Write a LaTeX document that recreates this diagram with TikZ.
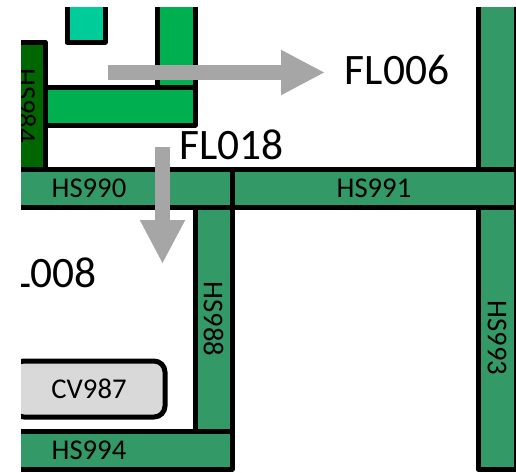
\documentclass[tikz,border=0pt]{standalone}
\usepackage{fontspec}
\setmainfont{Carlito}
\usetikzlibrary{arrows.meta}

\definecolor{barGreen}{HTML}{339966}
\definecolor{brightGreen}{HTML}{00B050}
\definecolor{darkGreen}{HTML}{006600}
\definecolor{tealBox}{HTML}{00CC99}
\definecolor{flowGray}{HTML}{A6A6A6}
\definecolor{valveGray}{HTML}{D9D9D9}

\def\px{.75pt}

\tikzset{
wall/.style={
draw=black,
line width=5*\px,
line join=round,
inner sep=0pt,
font=\fontsize{21.5}{24}\selectfont
},
flowlabel/.style={
inner sep=0pt,
font=\fontsize{32.6}{36}\selectfont
},
flowarrow/.style={
draw=flowGray,
line width=15*\px,
-{Triangle[length=44*\px,width=42*\px]}
}
}

\begin{document}
\begin{tikzpicture}[x=\px,y=-\px]

\useasboundingbox (0,0) rectangle (516,472);

\begin{scope}
\clip (21,7) rectangle (516,472);

%%%%%%%%%%%%%%%%%%%%%%%%%%%%%%%%%%%%%%%%%%%%%%%%%%%%%%
% UPPER ROOM
%%%%%%%%%%%%%%%%%%%%%%%%%%%%%%%%%%%%%%%%%%%%%%%%%%%%%%

\node[
wall,
fill=tealBox,
minimum width=38*\px,
minimum height=62.5*\px
](teal)
at (86,11)
{};

\node[
wall,
fill=brightGreen,
minimum width=38*\px,
minimum height=120*\px
](riser)
at (176,47)
{};

\node[
wall,
fill=brightGreen,
minimum width=150*\px,
minimum height=38*\px
](ledge)
at (120,106)
{};

\node[
wall,
fill=darkGreen,
rotate=-90,
minimum width=127*\px,
minimum height=38*\px
](hs984)
at (26,105.5)
{HS984};

%%%%%%%%%%%%%%%%%%%%%%%%%%%%%%%%%%%%%%%%%%%%%%%%%%%%%%
% WALLS
%%%%%%%%%%%%%%%%%%%%%%%%%%%%%%%%%%%%%%%%%%%%%%%%%%%%%%

\node[
wall,
fill=barGreen,
minimum width=38*\px,
minimum height=189*\px
](hs992)
at (497,74.5)
{};

\node[
wall,
fill=barGreen,
rotate=-90,
minimum width=224*\px,
minimum height=37*\px
](hs988)
at (213.5,319)
{HS988};

\node[
wall,
fill=barGreen,
rotate=-90,
minimum width=262*\px,
minimum height=38*\px
](hs993)
at (497,338)
{HS993};

\node[
wall,
fill=barGreen,
minimum width=286*\px,
minimum height=38*\px
](hs990)
at (89,188)
{HS990};

\node[
wall,
fill=barGreen,
minimum width=284*\px,
minimum height=38*\px
](hs991)
at (374,188)
{HS991};

\node[
wall,
fill=barGreen,
minimum width=286*\px,
minimum height=38*\px
](hs994)
at (89,450)
{HS994};

%%%%%%%%%%%%%%%%%%%%%%%%%%%%%%%%%%%%%%%%%%%%%%%%%%%%%%
% VALVE
%%%%%%%%%%%%%%%%%%%%%%%%%%%%%%%%%%%%%%%%%%%%%%%%%%%%%%

\node[
wall,
fill=valveGray,
rounded corners=11*\px,
minimum width=152*\px,
minimum height=56*\px
](cv987)
at (89,389)
{CV987};

%%%%%%%%%%%%%%%%%%%%%%%%%%%%%%%%%%%%%%%%%%%%%%%%%%%%%%
% FLOWS
%%%%%%%%%%%%%%%%%%%%%%%%%%%%%%%%%%%%%%%%%%%%%%%%%%%%%%

\coordinate (fl006start) at (108,72.5);
\coordinate (fl006end) at (325,72.5);
\coordinate (fl018start) at (162.5,147);
\coordinate (fl018end) at (162.5,264);

\draw[flowarrow] (fl006start)--(fl006end);

\draw[flowarrow] (fl018start)--(fl018end);

\node[flowlabel](fl006) at (397,70) {FL006};

\node[flowlabel](fl018) at (231.5,145) {FL018};

\node[flowlabel](fl008) at (44.5,272.5) {FL008};

\end{scope}

\end{tikzpicture}
\end{document}
